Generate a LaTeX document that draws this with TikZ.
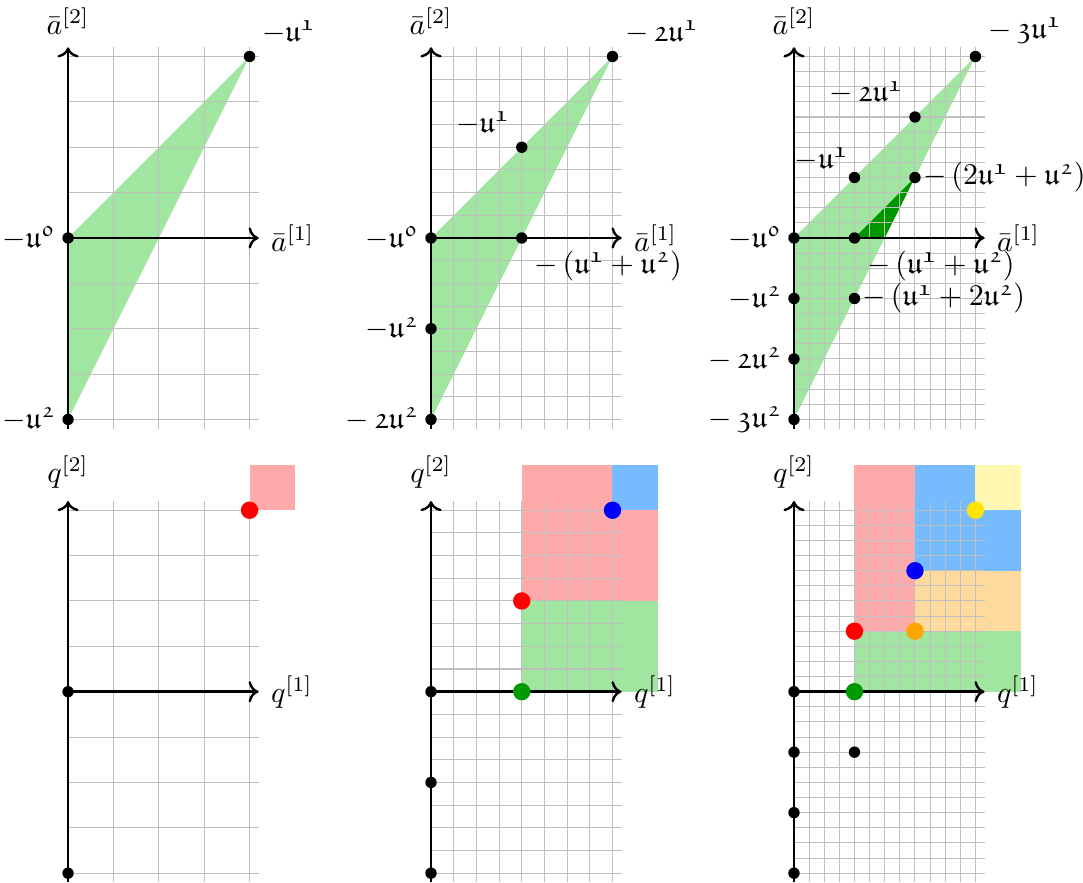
\documentclass[tikz,border=0pt]{standalone}
\usepackage{amsmath,amssymb}
\usetikzlibrary{arrows.meta}
\definecolor{regG}{RGB}{160,230,160}
\definecolor{regDG}{RGB}{0,150,0}
\definecolor{regR}{RGB}{255,170,170}
\definecolor{regB}{RGB}{119,187,255}
\definecolor{regO}{RGB}{255,218,158}
\definecolor{regY}{RGB}{255,247,178}
\definecolor{ptG}{RGB}{0,153,0}
\definecolor{ptO}{RGB}{255,165,0}
\definecolor{ptY}{RGB}{255,228,0}
\tikzset{
  grd/.style={draw=black!25,line width=.35pt},
  ax/.style ={->,thick},
  dot/.style={circle,fill=black,inner sep=0pt,minimum size=3.8pt},
  cdot/.style={circle,inner sep=0pt,minimum size=5.8pt},
  lbl/.style={inner sep=4pt},
}
\begin{document}
\begin{tikzpicture}[scale=.532]
  \useasboundingbox (-1.5,-14.2) rectangle (22.37,5.245);
  % top row
  \begin{scope}
    \fill[regG] (0,0)--(4,4)--(0,-4)--cycle;
    \draw[grd] (0,-4.2) grid (4.2,4.2);
    \coordinate (A1o) at (0,0);
    \coordinate (A1x) at (4.2,0);
    \coordinate (A1b) at (0,-4.2);
    \coordinate (A1y) at (0,4.2);
    \draw[ax] (A1o)--(A1x);
    \draw[ax] (A1b)--(A1y);
    \node[lbl,right] (A1xl) at (A1x){$\bar a^{[1]}$};
    \node[lbl,above] (A1yl) at (A1y){$\bar a^{[2]}$};
    \node[dot] (A1p0) at (0,0){};
    \node[dot] (A1p1) at (4,4){};
    \node[dot] (A1p2) at (0,-4){};
    \node[lbl,left] (A1l0) at (A1p0){$-\mathfrak{u^0}$};
    \node[lbl,above right] (A1l1) at (A1p1){$-\mathfrak{u^1}$};
    \node[lbl,left] (A1l2) at (A1p2){$-\mathfrak{u^2}$};
  \end{scope}
  \begin{scope}[shift={(8,0)},scale=1/2]
    \fill[regG] (0,0)--(8,8)--(0,-8)--cycle;
    \draw[grd] (0,-8.4) grid (8.4,8.4);
    \coordinate (A2o) at (0,0);
    \coordinate (A2x) at (8.4,0);
    \coordinate (A2b) at (0,-8.4);
    \coordinate (A2y) at (0,8.4);
    \draw[ax] (A2o)--(A2x);
    \draw[ax] (A2b)--(A2y);
    \node[lbl,right] (A2xl) at (A2x){$\bar a^{[1]}$};
    \node[lbl,above] (A2yl) at (A2y){$\bar a^{[2]}$};
    \node[dot] (A2p0) at (0,0){};
    \node[dot] (A2p1) at (4,4){};
    \node[dot] (A2p11) at (8,8){};
    \node[dot] (A2p2) at (0,-4){};
    \node[dot] (A2p22) at (0,-8){};
    \node[dot] (A2p12) at (4,0){};
    \node[lbl,left] (A2l0) at (A2p0){$-\mathfrak{u^0}$};
    \node[lbl,above left] (A2l1) at (A2p1){$-\mathfrak{u^1}$};
    \node[lbl,above right] (A2l11) at (A2p11){$-\,\mathfrak{2u^1}$};
    \node[lbl,left] (A2l2) at (A2p2){$-\mathfrak{u^2}$};
    \node[lbl,left] (A2l22) at (A2p22){$-\,\mathfrak{2u^2}$};
    \node[lbl,below right] (A2l12) at (A2p12){$-\left(\mathfrak{u^1}+\mathfrak{u^2}\right)$};
  \end{scope}
  \begin{scope}[shift={(16,0)},scale=1/3]
    \fill[regG] (0,0)--(12,12)--(0,-12)--cycle;
    \fill[regDG] (4,0)--(8,4)--(6,0)--cycle;
    \draw[grd] (0,-12.6) grid (12.6,12.6);
    \coordinate (A3o) at (0,0);
    \coordinate (A3x) at (12.6,0);
    \coordinate (A3b) at (0,-12.6);
    \coordinate (A3y) at (0,12.6);
    \draw[ax] (A3o)--(A3x);
    \draw[ax] (A3b)--(A3y);
    \node[lbl,right] (A3xl) at (A3x){$\bar a^{[1]}$};
    \node[lbl,above] (A3yl) at (A3y){$\bar a^{[2]}$};
    \node[dot] (A3p0) at (0,0){};
    \node[dot] (A3p1) at (4,4){};
    \node[dot] (A3p11) at (8,8){};
    \node[dot] (A3p111) at (12,12){};
    \node[dot] (A3p2) at (0,-4){};
    \node[dot] (A3p22) at (0,-8){};
    \node[dot] (A3p222) at (0,-12){};
    \node[dot] (A3p12) at (4,0){};
    \node[dot] (A3p112) at (8,4){};
    \node[dot] (A3p122) at (4,-4){};
    \node[lbl,left] (A3l0) at (A3p0){$-\mathfrak{u^0}$};
    \node[lbl,above left,inner sep=2pt] (A3l1) at (A3p1){$-\mathfrak{u^1}$};
    \node[lbl,above left] (A3l11) at (A3p11){$-\,\mathfrak{2u^1}$};
    \node[lbl,above right] (A3l111) at (A3p111){$-\,\mathfrak{3u^1}$};
    \node[lbl,left] (A3l2) at (A3p2){$-\mathfrak{u^2}$};
    \node[lbl,left] (A3l22) at (A3p22){$-\,\mathfrak{2u^2}$};
    \node[lbl,left] (A3l222) at (A3p222){$-\,\mathfrak{3u^2}$};
    \node[lbl,below right] (A3l12) at (A3p12){$-\left(\mathfrak{u^1}+\mathfrak{u^2}\right)$};
    \node[lbl,right,inner sep=2.5pt] (A3l112) at (A3p112){$-\left(2\mathfrak{u^1}+\mathfrak{u^2}\right)$};
    \node[lbl,right,inner sep=2.5pt] (A3l122) at (A3p122){$-\left(\mathfrak{u^1}+2\mathfrak{u^2}\right)$};
  \end{scope}
  % bottom row
  \begin{scope}[shift={(0,-10)}]
    \fill[regR] (4,4) rectangle (5,5);
    \draw[grd] (0,-4.2) grid (4.2,4.2);
    \coordinate (Q1o) at (0,0);
    \coordinate (Q1x) at (4.2,0);
    \coordinate (Q1b) at (0,-4.2);
    \coordinate (Q1y) at (0,4.2);
    \draw[ax] (Q1o)--(Q1x);
    \draw[ax] (Q1b)--(Q1y);
    \node[lbl,right] (Q1xl) at (Q1x){$q^{[1]}$};
    \node[lbl,above] (Q1yl) at (Q1y){$q^{[2]}$};
    \node[dot] (Q1p0) at (0,0){};
    \node[dot] (Q1p2) at (0,-4){};
    \node[cdot,fill=red] (Q1r) at (4,4){};
  \end{scope}
  \begin{scope}[shift={(8,-10)},scale=1/2]
    \fill[regR] (4,4) rectangle (10,10);
    \fill[regB] (8,8) rectangle (10,10);
    \fill[regG] (4,0) rectangle (10,4);
    \draw[grd] (0,-8.4) grid (8.4,8.4);
    \coordinate (Q2o) at (0,0);
    \coordinate (Q2x) at (8.4,0);
    \coordinate (Q2b) at (0,-8.4);
    \coordinate (Q2y) at (0,8.4);
    \draw[ax] (Q2o)--(Q2x);
    \draw[ax] (Q2b)--(Q2y);
    \node[lbl,right] (Q2xl) at (Q2x){$q^{[1]}$};
    \node[lbl,above] (Q2yl) at (Q2y){$q^{[2]}$};
    \node[dot] (Q2p0) at (0,0){};
    \node[dot] (Q2p2) at (0,-4){};
    \node[dot] (Q2p22) at (0,-8){};
    \node[cdot,fill=red] (Q2r) at (4,4){};
    \node[cdot,fill=blue] (Q2b) at (8,8){};
    \node[cdot,fill=ptG] (Q2g) at (4,0){};
  \end{scope}
  \begin{scope}[shift={(16,-10)},scale=1/3]
    \fill[regR] (4,4) rectangle (8,15);
    \fill[regB] (8,8) rectangle (15,15);
    \fill[regY] (12,12) rectangle (15,15);
    \fill[regO] (8,4) rectangle (15,8);
    \fill[regG] (4,0) rectangle (15,4);
    \draw[grd] (0,-12.6) grid (12.6,12.6);
    \coordinate (Q3o) at (0,0);
    \coordinate (Q3x) at (12.6,0);
    \coordinate (Q3b) at (0,-12.6);
    \coordinate (Q3y) at (0,12.6);
    \draw[ax] (Q3o)--(Q3x);
    \draw[ax] (Q3b)--(Q3y);
    \node[lbl,right] (Q3xl) at (Q3x){$q^{[1]}$};
    \node[lbl,above] (Q3yl) at (Q3y){$q^{[2]}$};
    \node[dot] (Q3p0) at (0,0){};
    \node[dot] (Q3p2) at (0,-4){};
    \node[dot] (Q3p22) at (0,-8){};
    \node[dot] (Q3p222) at (0,-12){};
    \node[dot] (Q3p122) at (4,-4){};
    \node[cdot,fill=red] (Q3r) at (4,4){};
    \node[cdot,fill=ptG] (Q3g) at (4,0){};
    \node[cdot,fill=ptO] (Q3o2) at (8,4){};
    \node[cdot,fill=blue] (Q3b2) at (8,8){};
    \node[cdot,fill=ptY] (Q3y2) at (12,12){};
  \end{scope}
\end{tikzpicture}
\end{document}
